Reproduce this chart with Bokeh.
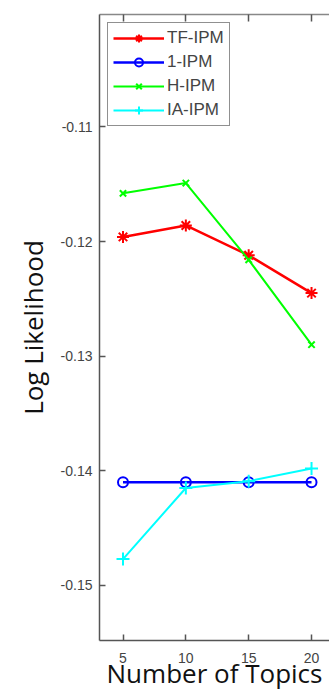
from bokeh.plotting import figure
from bokeh.models import LinearAxis, FixedTicker, PrintfTickFormatter, Range1d
from bokeh.embed import file_html
from bokeh.resources import INLINE

topics = [5, 10, 15, 20]
tf_ipm = [-0.1196, -0.1186, -0.1212, -0.1245]
one_ipm = [-0.1410, -0.1410, -0.1410, -0.1410]
h_ipm = [-0.1158, -0.1149, -0.1216, -0.1290]
ia_ipm = [-0.1477, -0.1415, -0.1409, -0.1398]
x_ticks = [5, 10, 15, 20]
y_ticks = [-0.15, -0.14, -0.13, -0.12, -0.11]

p = figure(width=329, height=694, output_backend="svg", toolbar_location=None,
           x_range=Range1d(3.13, 21.43), y_range=Range1d(-0.1548, -0.1002),
           min_border_left=99, min_border_top=14, min_border_bottom=54, min_border_right=0)
p.outline_line_color = None
p.xgrid.visible = False
p.ygrid.visible = False
p.background_fill_color = "white"
p.border_fill_color = "white"

series = [
    ("TF-IPM", tf_ipm, "#FF0000", "asterisk", 12, 2.5),
    ("1-IPM", one_ipm, "#0000FF", "circle", 10, 2.5),
    ("H-IPM", h_ipm, "#00FF00", "x", 9, 2),
    ("IA-IPM", ia_ipm, "#00FFFF", "cross", 13, 2),
]
for name, vals, col, mk, sz, lw in series:
    p.line(topics, vals, line_color=col, line_width=lw, legend_label=name)
    p.scatter(topics, vals, marker=mk, size=sz, line_color=col, fill_color=None,
              line_width=2, legend_label=name)

axis_col = "#555555"
for ax in [p.xaxis[0], p.yaxis[0]]:
    ax.axis_line_color = axis_col
    ax.axis_line_width = 1.5
    ax.major_tick_line_color = axis_col
    ax.major_tick_line_width = 1.5
    ax.major_tick_in = 6
    ax.major_tick_out = 0
    ax.minor_tick_line_color = None
    ax.major_label_text_font = "Liberation Sans"
    ax.major_label_text_font_size = "14px"
    ax.major_label_text_color = "#444444"
    ax.axis_label_text_font = "Open Sans"
    ax.axis_label_text_font_size = "26px"
    ax.axis_label_text_font_style = "normal"
    ax.axis_label_text_color = "#111111"

p.xaxis[0].ticker = FixedTicker(ticks=x_ticks)
p.yaxis[0].ticker = FixedTicker(ticks=y_ticks)
p.yaxis[0].formatter = PrintfTickFormatter(format="%.2f")
p.xaxis[0].axis_label = "Number of Topics"
p.yaxis[0].axis_label = "Log Likelihood"
p.xaxis[0].major_label_standoff = 12
p.yaxis[0].major_label_standoff = 7
p.xaxis[0].axis_label_standoff = -11
p.xaxis[0].axis_label_text_baseline = "alphabetic"
p.yaxis[0].axis_label_standoff = 7

top = LinearAxis(ticker=FixedTicker(ticks=x_ticks))
top.axis_line_color = "#888888"
top.axis_line_width = 1.5
top.major_tick_line_color = axis_col
top.major_tick_line_width = 1.5
top.major_tick_in = 7
top.major_tick_out = 0
top.minor_tick_line_color = None
top.major_label_overrides = {t: "" for t in x_ticks}
top.major_label_text_font_size = "1px"
top.major_label_standoff = 0
p.add_layout(top, "above")

lg = p.legend[0]
lg.location = "top_left"
lg.margin = 8
lg.padding = 5
lg.spacing = 4
lg.label_height = 20
lg.glyph_height = 20
lg.glyph_width = 51
lg.label_standoff = 3
lg.border_line_color = "#222222"
lg.border_line_width = 1.5
lg.background_fill_color = "white"
lg.background_fill_alpha = 1
lg.label_text_font = "Liberation Sans"
lg.label_text_font_size = "17px"
lg.label_text_color = "#444444"

open("out.html", "w").write(file_html(p, INLINE))
